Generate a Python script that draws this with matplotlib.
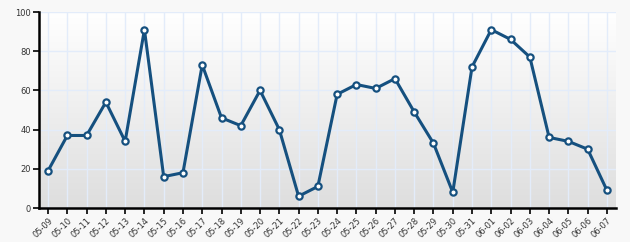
import matplotlib
matplotlib.use("Agg")
import matplotlib.pyplot as plt
import numpy as np

dates = ["05-09", "05-10", "05-11", "05-12", "05-13", "05-14", "05-15", "05-16",
         "05-17", "05-18", "05-19", "05-20", "05-21", "05-22", "05-23", "05-24",
         "05-25", "05-26", "05-27", "05-28", "05-29", "05-30", "05-31", "06-01",
         "06-02", "06-03", "06-04", "06-05", "06-06", "06-07"]
values = [19, 37, 37, 54, 34, 91, 16, 18, 73, 46, 42, 60, 40, 6, 11, 58,
          63, 61, 66, 49, 33, 8, 72, 91, 86, 77, 36, 34, 30, 9]
yticks = [0, 20, 40, 60, 80, 100]

fig = plt.figure(figsize=(6.3, 2.42), dpi=100, facecolor="#f8f8f8")
ax = fig.add_axes([39/630, 34/242, 577/630, 196/242])

# gradient background
grad = np.linspace(1, 0, 256).reshape(-1, 1)
top = np.array([1.0, 1.0, 1.0])
bot = np.array([0.87, 0.87, 0.87])
img = bot + (top - bot) * grad[..., None]
ax.imshow(img, extent=[0, 1, 0, 1], transform=ax.transAxes, aspect="auto", zorder=0)

x = np.arange(len(dates))
ax.plot(x, values, color="#15507f", lw=2.2, marker="o", ms=4.5,
        mfc="white", mec="#15507f", mew=1.6, zorder=3)

ax.set_xlim(-0.47, len(dates) - 0.53)
ax.set_ylim(0, 100)
ax.set_xticks(x)
ax.set_xticklabels(dates, rotation=45, ha="right", rotation_mode="anchor")
ax.set_yticks(yticks)
ax.grid(True, color="#e3ecfa", lw=1.0, zorder=1)
ax.set_axisbelow(True)

for s in ["top", "right"]:
    ax.spines[s].set_visible(False)
for s in ["left", "bottom"]:
    ax.spines[s].set_linewidth(1.8)
    ax.spines[s].set_color("black")
ax.tick_params(axis="both", labelsize=6, colors="#333333", length=4, width=1.2, pad=2)
ax.tick_params(axis="both", color="black")

fig.savefig("out.png", dpi=100, facecolor=fig.get_facecolor())
